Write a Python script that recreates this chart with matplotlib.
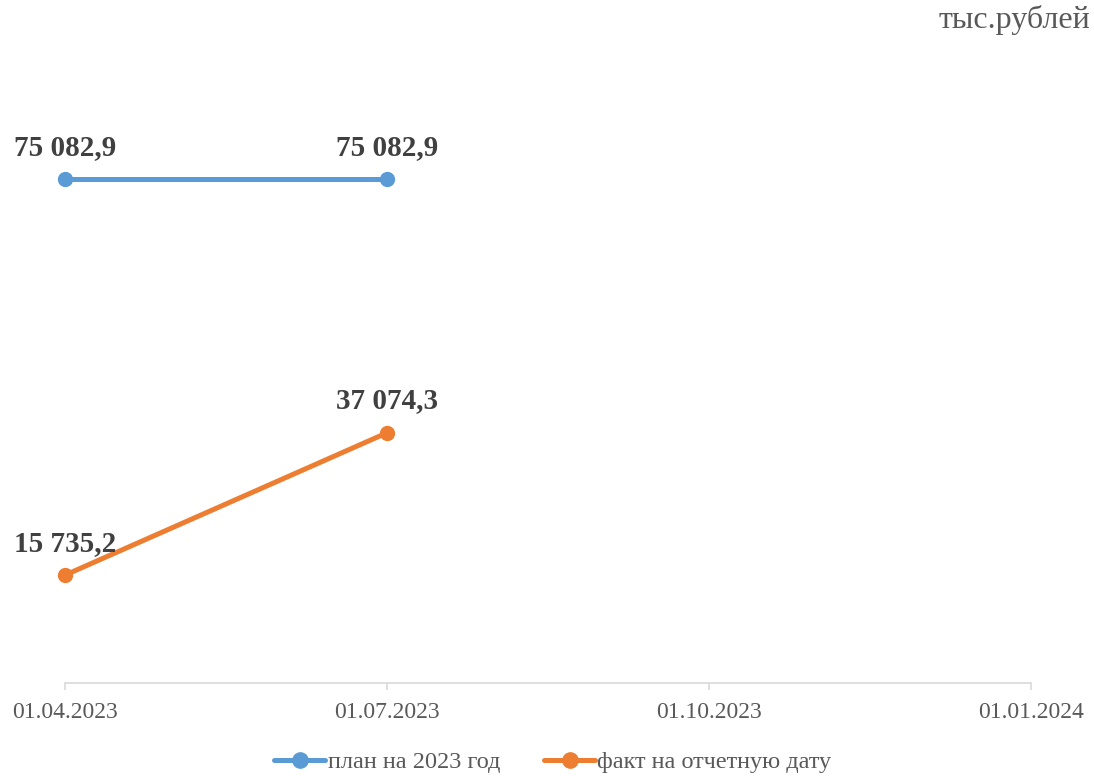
import matplotlib
matplotlib.use("Agg")
import matplotlib.pyplot as plt
import numpy as np

categories = ["01.04.2023", "01.07.2023", "01.10.2023", "01.01.2024"]
plan = [75082.9, 75082.9]
fact = [15735.2, 37074.3]
plan_labels = ["75 082,9", "75 082,9"]
fact_labels = ["15 735,2", "37 074,3"]

plt.rcParams['font.family'] = ['Liberation Serif', 'DejaVu Serif']

fig = plt.figure(figsize=(10.94, 7.76), dpi=100)
ax = fig.add_axes([65/1094, 1-683/776, (1031-65)/1094, (683-83)/776])

x = np.arange(len(categories))
blue = "#5B9BD5"
orange = "#ED7D31"
ax.plot(x[:len(plan)], plan, color=blue, lw=3.6, marker='o', ms=10, label="план на 2023 год", solid_capstyle='round')
ax.plot(x[:len(fact)], fact, color=orange, lw=3.6, marker='o', ms=10, label="факт на отчетную дату", solid_capstyle='round')

for xi, v, t in zip(x, plan, plan_labels):
    ax.annotate(t, (xi, v), xytext=(0, 23), textcoords='offset points', ha='center', va='center',
                fontsize=21, fontweight='bold', color='#404040')
for xi, v, t in zip(x, fact, fact_labels):
    ax.annotate(t, (xi, v), xytext=(0, 23), textcoords='offset points', ha='center', va='center',
                fontsize=21, fontweight='bold', color='#404040')

ax.set_xlim(0, 3)
ax.set_ylim(-450, 89550)
ax.set_xticks(x)
ax.set_xticklabels(categories, fontsize=17, color='#595959')
ax.set_yticks([])
for s in ['top', 'right', 'left']:
    ax.spines[s].set_visible(False)
ax.spines['bottom'].set_color('#D9D9D9')
ax.spines['bottom'].set_linewidth(1.2)
ax.tick_params(axis='x', colors='#D9D9D9', length=5, width=1.2, pad=9, labelcolor='#595959')
ax.patch.set_visible(False)
for ln in ax.lines:
    ln.set_clip_on(False)

fig.text(1090/1094, 1-20/776, "тыс.рублей", ha='right', va='center', fontsize=23, color='#595959')

leg = fig.legend(loc='center', bbox_to_anchor=(553/1094, 1-762/776), ncol=2, frameon=False,
                 fontsize=17.5, handlelength=2.1, handletextpad=0.1, columnspacing=1.8,
                 markerscale=1.1)
for t in leg.get_texts():
    t.set_color('#595959')

fig.savefig("out.png", dpi=100)
